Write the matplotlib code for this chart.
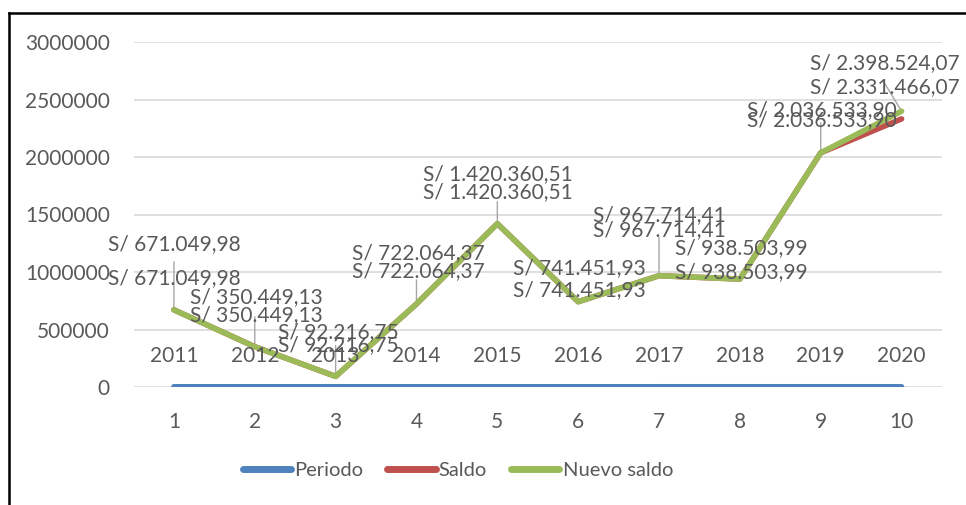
import numpy as np
import matplotlib
matplotlib.use('Agg')
from matplotlib import pyplot as plt
from matplotlib.lines import Line2D

plt.rcParams['font.family'] = ['Lato', 'DejaVu Sans']

# data
categories = [1, 2, 3, 4, 5, 6, 7, 8, 9, 10]
periodo = [2011, 2012, 2013, 2014, 2015, 2016, 2017, 2018, 2019, 2020]
saldo = [671049.98, 350449.13, 92216.75, 722064.37, 1420360.51,
         741451.93, 967714.41, 938503.99, 2036533.90, 2331466.07]
nuevo_saldo = [671049.98, 350449.13, 92216.75, 722064.37, 1420360.51,
               741451.93, 967714.41, 938503.99, 2036533.90, 2398524.07]
yticks = [0, 500000, 1000000, 1500000, 2000000, 2500000, 3000000]

# label placement (pixels, relative to each point): left edge dx, rise of upper / lower label
lab_dx = [-66, -65, -58, -64, -74, -65, -66, -65, -74, -92]
lab_up = [66, 50, 44, 51, 50, 34, 61, 31, 43, 48]
lab_lo = [32, 32, 31, 33, 32, 12, 46, 7, 33, 32]
# leader lines (pixels): dx, rise
lead_dx = [0, 0, 0, 0, 0, 0, 0, 0, 0, -17]
lead_up = [48, 30, 31, 24, 22, 0, 38, 0, 30, 28]

BLUE = '#4F81BD'
RED = '#C0504D'
GREEN = '#9BBB59'
TXT = '#595959'
PX = 0.72  # pixels -> points at dpi 100
FS = 15


def fmt_sol(v):
    s = f'{v:,.2f}'.replace(',', 'X').replace('.', ',').replace('X', '.')
    return 'S/ ' + s


fig = plt.figure(figsize=(9.66, 5.05), dpi=100)
ax = fig.add_axes([133.5 / 966, 1 - 387 / 505, (942 - 133.5) / 966, (387 - 42) / 505])

ax.plot(categories, periodo, color=BLUE, lw=4, solid_capstyle='round', label='Periodo', zorder=3)
ax.plot(categories, saldo, color=RED, lw=4, solid_capstyle='round', label='Saldo', zorder=3)
ax.plot(categories, nuevo_saldo, color=GREEN, lw=4, solid_capstyle='round',
        label='Nuevo saldo', zorder=4)

ax.set_xlim(0.5, 10.5)
ax.set_ylim(0, 3000000)
ax.set_yticks(yticks)
ax.set_yticklabels([str(t) for t in yticks])
ax.set_xticks(categories)
ax.grid(axis='y', color='#D9D9D9', lw=1.2)
ax.set_axisbelow(True)
for s in ax.spines.values():
    s.set_visible(False)
ax.tick_params(axis='y', length=0, pad=17, labelsize=FS, labelcolor=TXT)
ax.tick_params(axis='x', length=0, pad=18, labelsize=FS, labelcolor=TXT)

# leader lines
for i, c in enumerate(categories):
    if lead_up[i]:
        ax.annotate('', xy=(c, nuevo_saldo[i]), xytext=(lead_dx[i] * PX, lead_up[i] * PX),
                    textcoords='offset points',
                    arrowprops=dict(arrowstyle='-', color='#A6A6A6', lw=1, shrinkA=0, shrinkB=0),
                    zorder=2)

# data labels
for i, c in enumerate(categories):
    ax.annotate(fmt_sol(nuevo_saldo[i]), xy=(c, nuevo_saldo[i]),
                xytext=(lab_dx[i] * PX, lab_up[i] * PX), textcoords='offset points',
                ha='left', va='center', fontsize=FS, color=TXT, zorder=5)
    ax.annotate(fmt_sol(saldo[i]), xy=(c, saldo[i]),
                xytext=(lab_dx[i] * PX, lab_lo[i] * PX), textcoords='offset points',
                ha='left', va='center', fontsize=FS, color=TXT, zorder=5)
    ax.annotate(str(periodo[i]), xy=(c, periodo[i]), xytext=(0, 31 * PX),
                textcoords='offset points', ha='center', va='center',
                fontsize=FS, color=TXT, zorder=5)

leg = fig.legend(loc='center', bbox_to_anchor=(0.474, 1 - 470 / 505), ncol=3,
                 frameon=False, fontsize=14.5, handlelength=2.4, handletextpad=0.15,
                 columnspacing=1.2)
for t in leg.get_texts():
    t.set_color(TXT)
for h in leg.legend_handles:
    h.set_linewidth(5)
    h.set_solid_capstyle('round')

# outer frame (left and top edges visible)
fig.add_artist(Line2D([8.5 / 966, 8.5 / 966], [0, 1 - 12.5 / 505], color='black', lw=1.8,
                      transform=fig.transFigure))
fig.add_artist(Line2D([8.5 / 966, 1], [1 - 12.5 / 505, 1 - 12.5 / 505], color='black', lw=1.8,
                      transform=fig.transFigure))

fig.savefig('out.png', dpi=100)
